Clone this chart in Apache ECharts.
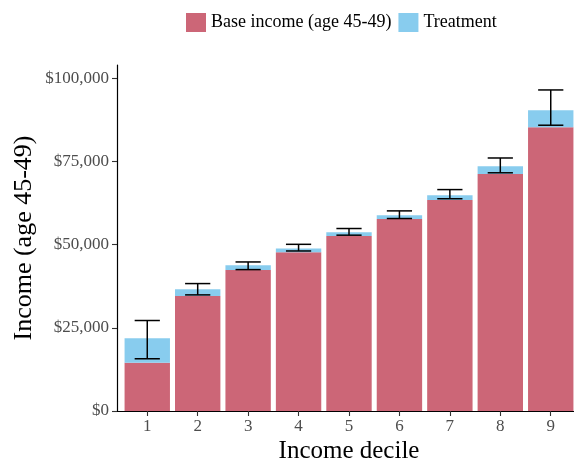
<!DOCTYPE html>
<html>
<head>
<meta charset="utf-8">
<script src="https://cdn.jsdelivr.net/npm/echarts@6/dist/echarts.min.js"></script>
<style>
  html, body { margin: 0; padding: 0; background: #fff; }
  #chart { width: 574px; height: 465px; }
</style>
</head>
<body>
<div id="chart"></div>
<script>
// Income deciles 1..9
const deciles = [1, 2, 3, 4, 5, 6, 7, 8, 9];
// Base income at age 45-49, by decile
const baseIncome = [14500, 34600, 42400, 47700, 52600, 57700, 63400, 71200, 85300];
// Additional income from the treatment, stacked on the base
const treatmentGain = [7400, 2000, 1400, 1150, 1150, 1150, 1450, 2400, 5100];
// Uncertainty interval around the treated income
const errLow = [15700, 34900, 42500, 48100, 52850, 57850, 63800, 71600, 85900];
const errHigh = [27200, 38300, 44800, 50100, 54850, 60150, 66550, 76050, 96500];
// Y-axis tick values
const yTicks = [0, 25000, 50000, 75000, 100000];

const serif = '"Liberation Serif", "DejaVu Serif", serif';
const fmtDollar = v => '$' + Math.round(v).toLocaleString('en-US');

const chart = echarts.init(document.getElementById('chart'), null, { renderer: 'canvas' });

// Bar rows are [income, decile] so the income column is the stacked one;
// encode maps them back onto the y and x axes.
const barRows = values => deciles.map((d, i) => [values[i], d]);

const option = {
  animation: false,
  backgroundColor: '#ffffff',
  textStyle: { fontFamily: serif },
  legend: {
    top: 8,
    left: 181,
    icon: 'rect',
    itemWidth: 20,
    itemHeight: 19,
    itemGap: 7,
    textStyle: { fontFamily: serif, fontSize: 18, color: '#000' },
    data: ['Base income (age 45-49)', 'Treatment']
  },
  grid: { left: 117, right: -7, top: 65, bottom: 54, containLabel: false, outerBoundsMode: 'none' },
  xAxis: {
    type: 'value',
    min: 0.4,
    max: 9.6,
    name: 'Income decile',
    nameLocation: 'middle',
    nameGap: 28,
    nameMoveOverlap: false,
    nameTextStyle: { fontFamily: serif, fontSize: 25, color: '#000' },
    axisLine: { show: true, lineStyle: { color: '#000', width: 1.2 } },
    axisTick: { show: true, customValues: deciles, length: 5, lineStyle: { color: '#333', width: 1.1 } },
    axisLabel: { customValues: deciles, color: '#4d4d4d', fontSize: 17, margin: 7, fontFamily: serif },
    splitLine: { show: false }
  },
  yAxis: {
    type: 'value',
    min: 0,
    max: 104000,
    name: 'Income (age 45-49)',
    nameLocation: 'middle',
    nameGap: 80,
    nameMoveOverlap: false,
    nameTextStyle: { fontFamily: serif, fontSize: 26, color: '#000' },
    axisLine: { show: true, lineStyle: { color: '#000', width: 1.2 } },
    axisTick: { show: true, customValues: yTicks, length: 5, lineStyle: { color: '#333', width: 1.1 } },
    axisLabel: { customValues: yTicks, color: '#4d4d4d', fontSize: 17, margin: 8, fontFamily: serif, formatter: fmtDollar },
    splitLine: { show: false }
  },
  series: [
    {
      name: 'Base income (age 45-49)',
      type: 'bar',
      stack: 'income',
      barWidth: '90%',
      encode: { x: 1, y: 0 },
      itemStyle: { color: '#CC6677' },
      data: barRows(baseIncome)
    },
    {
      name: 'Treatment',
      type: 'bar',
      stack: 'income',
      barWidth: '90%',
      encode: { x: 1, y: 0 },
      itemStyle: { color: '#88CCEE' },
      data: barRows(treatmentGain)
    },
    {
      name: 'interval',
      type: 'custom',
      silent: true,
      z: 10,
      data: deciles.map((d, i) => [d, errLow[i], errHigh[i]]),
      renderItem: function (params, api) {
        const x = api.value(0);
        const lo = api.coord([x, api.value(1)]);
        const hi = api.coord([x, api.value(2)]);
        const half = api.size([0.25, 0])[0];
        const style = { stroke: '#000', lineWidth: 1.5 };
        return {
          type: 'group',
          children: [
            { type: 'line', shape: { x1: lo[0], y1: lo[1], x2: hi[0], y2: hi[1] }, style },
            { type: 'line', shape: { x1: lo[0] - half, y1: lo[1], x2: lo[0] + half, y2: lo[1] }, style },
            { type: 'line', shape: { x1: hi[0] - half, y1: hi[1], x2: hi[0] + half, y2: hi[1] }, style }
          ]
        };
      }
    }
  ]
};

chart.setOption(option);
</script>
</body>
</html>
